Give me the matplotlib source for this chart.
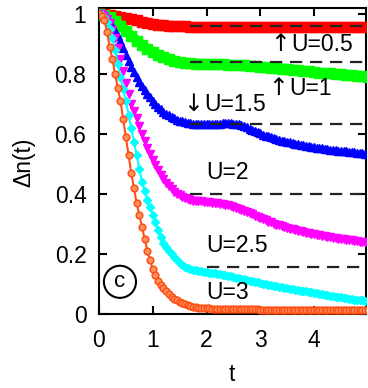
import numpy as np
import matplotlib
matplotlib.use("Agg")
import matplotlib.pyplot as plt

plt.rcParams['font.family'] = ['Liberation Sans', 'DejaVu Sans']

# time grids: 0.1 step for the two thick bands, 0.05 step for marker curves
t_coarse = np.round(np.arange(51) * 0.1, 2)
t_fine = np.round(np.arange(101) * 0.05, 2)

# U = 0.5  (t_coarse)
d_u05 = [1.0, 1.0, 0.998, 0.995, 0.991, 0.987, 0.983, 0.979, 0.975, 0.971,
         0.968, 0.965, 0.963, 0.961, 0.960, 0.959, 0.959, 0.958, 0.958, 0.958,
         0.958, 0.958, 0.958, 0.958, 0.958, 0.958, 0.958, 0.958, 0.958, 0.958,
         0.958, 0.958, 0.958, 0.958, 0.958, 0.958, 0.958, 0.958, 0.958, 0.958,
         0.958, 0.958, 0.958, 0.958, 0.958, 0.958, 0.958, 0.958, 0.958, 0.958,
         0.958]
# U = 1  (t_coarse)
d_u1 = [1.0, 0.998, 0.99, 0.978, 0.962, 0.945, 0.928, 0.912, 0.898, 0.885,
        0.874, 0.864, 0.856, 0.85, 0.845, 0.841, 0.838, 0.836, 0.835, 0.834,
        0.834, 0.834, 0.833, 0.833, 0.832, 0.831, 0.83, 0.829, 0.827, 0.826,
        0.824, 0.823, 0.821, 0.819, 0.818, 0.816, 0.814, 0.812, 0.811, 0.809,
        0.807, 0.805, 0.804, 0.802, 0.8, 0.799, 0.797, 0.796, 0.794, 0.793,
        0.791]
# U = 1.5  (t_fine)
d_u15 = [1.0, 0.999, 0.995, 0.987, 0.975, 0.96, 0.945, 0.928, 0.91, 0.888,
         0.865, 0.845, 0.825, 0.807, 0.79, 0.775, 0.76, 0.747, 0.735, 0.722,
         0.71, 0.7, 0.69, 0.682, 0.675, 0.668, 0.662, 0.657, 0.652, 0.648,
         0.645, 0.642, 0.64, 0.638, 0.636, 0.635, 0.634, 0.633, 0.633, 0.633,
         0.633,
         0.633, 0.634, 0.634, 0.635, 0.635, 0.636, 0.636, 0.636, 0.636, 0.635,
         0.634, 0.632, 0.629, 0.626, 0.622, 0.618, 0.614, 0.61, 0.606, 0.602,
         0.598, 0.595, 0.592, 0.589, 0.586, 0.583, 0.58, 0.578, 0.576, 0.574,
         0.572, 0.57, 0.568, 0.566, 0.564, 0.563, 0.561, 0.56, 0.558, 0.557,
         0.555, 0.554, 0.552, 0.551, 0.549, 0.548, 0.547, 0.546, 0.545, 0.544,
         0.543, 0.542, 0.541, 0.54, 0.539, 0.538, 0.537, 0.536, 0.535, 0.534]
# U = 2  (t_fine)
d_u2 = [1.0, 0.999, 0.995, 0.985, 0.97, 0.948, 0.92, 0.887, 0.85, 0.81,
        0.77, 0.735, 0.70, 0.677, 0.655, 0.627, 0.60, 0.577, 0.555, 0.535,
        0.515, 0.497, 0.48, 0.465, 0.45, 0.437, 0.425, 0.415, 0.405, 0.4,
        0.395, 0.39, 0.385, 0.382, 0.38, 0.378, 0.377, 0.376, 0.375, 0.374,
        0.373,
        0.372, 0.371, 0.37, 0.369, 0.368, 0.366, 0.364, 0.362, 0.36, 0.357,
        0.354, 0.351, 0.348, 0.344, 0.34, 0.336, 0.332, 0.328, 0.324, 0.32,
        0.316, 0.312, 0.308, 0.305, 0.301, 0.298, 0.295, 0.292, 0.289, 0.287,
        0.284, 0.282, 0.279, 0.277, 0.275, 0.273, 0.271, 0.269, 0.267, 0.265,
        0.263, 0.262, 0.26, 0.259, 0.257, 0.256, 0.254, 0.253, 0.251, 0.25,
        0.249, 0.248, 0.246, 0.245, 0.244, 0.243, 0.241, 0.24, 0.239, 0.238]
# U = 2.5  (t_fine)
d_u25 = [1.0, 0.998, 0.99, 0.975, 0.95, 0.92, 0.88, 0.835, 0.79, 0.75,
         0.71, 0.665, 0.62, 0.575, 0.53, 0.485, 0.44, 0.41, 0.38, 0.355,
         0.33, 0.305, 0.28, 0.257, 0.235, 0.222, 0.21, 0.2, 0.19, 0.18,
         0.17, 0.164, 0.158, 0.154, 0.15, 0.148, 0.146, 0.144, 0.143, 0.141,
         0.14,
         0.138, 0.137, 0.135, 0.134, 0.132, 0.131, 0.129, 0.127, 0.125, 0.123,
         0.121, 0.119, 0.117, 0.115, 0.113, 0.111, 0.109, 0.107, 0.105, 0.103,
         0.101, 0.099, 0.097, 0.096, 0.094, 0.093, 0.091, 0.089, 0.088, 0.086,
         0.084, 0.083, 0.081, 0.08, 0.078, 0.077, 0.075, 0.074, 0.072, 0.071,
         0.069, 0.068, 0.066, 0.064, 0.063, 0.061, 0.06, 0.058, 0.057, 0.055,
         0.054, 0.052, 0.051, 0.05, 0.048, 0.047, 0.046, 0.045, 0.043, 0.042]
# U = 3  (t_fine)
d_u3 = [1.0, 0.995, 0.98, 0.94, 0.89, 0.85, 0.80, 0.755, 0.71, 0.65,
        0.59, 0.53, 0.47, 0.42, 0.37, 0.33, 0.29, 0.25, 0.21, 0.18,
        0.15, 0.13, 0.11, 0.097, 0.085, 0.075, 0.065, 0.057, 0.05, 0.045,
        0.04, 0.036, 0.032, 0.029, 0.026, 0.024, 0.022, 0.021, 0.02, 0.019,
        0.018,
        0.018, 0.017, 0.017, 0.017, 0.017, 0.016, 0.016, 0.016, 0.016, 0.016,
        0.016, 0.015, 0.015, 0.015, 0.015, 0.015, 0.015, 0.015, 0.015, 0.014,
        0.014, 0.014, 0.014, 0.014, 0.014, 0.014, 0.014, 0.014, 0.013, 0.013,
        0.013, 0.013, 0.013, 0.013, 0.013, 0.013, 0.013, 0.013, 0.013, 0.013,
        0.013, 0.012, 0.012, 0.012, 0.012, 0.012, 0.012, 0.012, 0.012, 0.012,
        0.012, 0.012, 0.012, 0.012, 0.012, 0.012, 0.012, 0.012, 0.012, 0.012]

# dashed reference levels and where they start
ref_levels = [0.96, 0.84, 0.633, 0.40, 0.157]
ref_start = [1.7, 1.7, 1.7, 1.7, 2.0]

# curve labels: arrow (or none), text, arrow right edge x, text x, y
arrows = ["\u2191", "\u2191", "\u2193", "", "", ""]
labels = ["U=0.5", "U=1", "U=1.5", "U=2", "U=2.5", "U=3"]
arrow_x = [3.56, 3.51, 1.93, 0, 0, 0]
label_x = [3.58, 3.53, 1.95, 2.0, 2.0, 2.0]
label_y = [0.90, 0.753, 0.70, 0.473, 0.227, 0.073]

fig = plt.figure(figsize=(3.68, 3.88), dpi=100)
ax = fig.add_axes([0.269, 0.191, 0.726, 0.788])

ax.plot(t_coarse, d_u05, color='#ff0000', marker='s', ms=7, lw=6, zorder=3)
ax.plot(t_coarse, d_u1, color='#00ff00', marker='s', ms=7, lw=7, zorder=3)
ax.plot(t_fine, d_u15, color='#0000ff', marker='^', ms=5.5, lw=0, zorder=3)
ax.plot(t_fine, d_u2, color='#ff00ff', marker='v', ms=5.5, lw=0, zorder=3)
ax.plot(t_fine, d_u25, color='#00ffff', marker='D', ms=4.5, lw=1.5, zorder=3)
ax.plot(t_fine, d_u3, color='#ff5014', marker='o', ms=4.8, mfc='#ff9060',
        mec='#ff5014', mew=1.1, lw=1.5, zorder=4)

for lev, t0 in zip(ref_levels, ref_start):
    ax.plot([t0, 5.0], [lev, lev], color='#222222', lw=1.6,
            dashes=(5.5, 3.5), zorder=5)

for a, s, ax_, lx, ly in zip(arrows, labels, arrow_x, label_x, label_y):
    if a:
        ax.text(ax_, ly, a, fontsize=17, family=['DejaVu Sans'],
                ha='right', va='center', zorder=6)
    ax.text(lx, ly, s, fontsize=16.5, ha='left', va='center', zorder=6)

ax.text(0.39, 0.107, "c", fontsize=16, ha='center', va='center',
        bbox=dict(boxstyle='circle,pad=0.25', fc='white', ec='black', lw=1.5))

ax.set_xlim(0, 4.97)
ax.set_ylim(0, 1.02)
ax.set_xticks([0, 1, 2, 3, 4])
ax.set_yticks([0, 0.2, 0.4, 0.6, 0.8, 1])
ax.set_yticklabels(["0", "0.2", "0.4", "0.6", "0.8", "1"])
ax.tick_params(direction='in', length=6, width=1.5, top=True, right=True,
               labelsize=16.5)
ax.tick_params(axis='y', pad=9)
ax.tick_params(axis='x', pad=11)
for sp in ax.spines.values():
    sp.set_linewidth(1.5)

fig.text(24 / 368, 1 - 162 / 388, "\u0394n(t)", rotation=90, fontsize=16.5,
         ha='center', va='center')
fig.text(232 / 368, 1 - 381 / 388, "t", fontsize=16.5, ha='center',
         va='baseline')

fig.savefig("out.png", dpi=100)
